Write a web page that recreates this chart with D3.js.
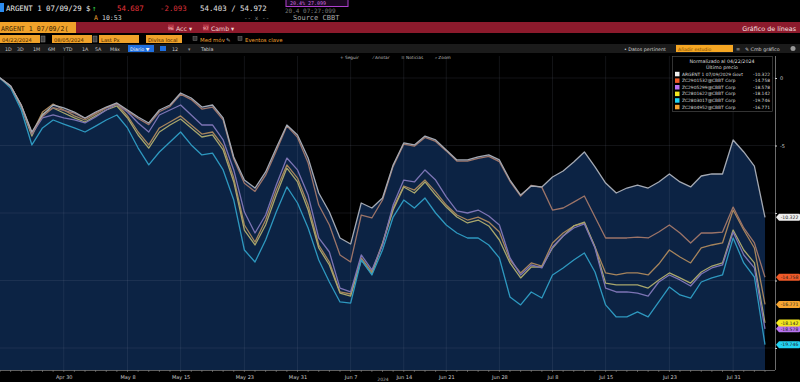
<!DOCTYPE html>
<html><head><meta charset="utf-8">
<script src="https://cdn.jsdelivr.net/npm/d3@7"></script>
<style>html,body{margin:0;padding:0;background:#000;overflow:hidden}svg{display:block}</style>
</head><body><svg id="c" width="800" height="382"></svg>
<script>
// ---------- DATA ----------
const startDate = "2024-04-22", endDate = "2024-08-05";
const holidays = ["2024-05-27", "2024-06-19", "2024-07-04"];
const tickDates = ["2024-04-30","2024-05-08","2024-05-15","2024-05-23","2024-05-31","2024-06-07","2024-06-14","2024-06-21","2024-06-28","2024-07-08","2024-07-15","2024-07-23","2024-07-31"];
const tickLabels = ["Apr 30","May 8","May 15","May 23","May 31","Jun 7","Jun 14","Jun 21","Jun 28","Jul 8","Jul 15","Jul 23","Jul 31"];
const yTicks = [0, -5, -10, -15, -20];
const yTickLabels = ["0", "-5", "", "", ""];
const seriesNames = ["ARGENT 1 07/09/2029 Govt","ZC2901532@CBBT Corp","ZC2905299@CBBT Corp","ZC2801622@CBBT Corp","ZC2803017@CBBT Corp","ZC2804952@CBBT Corp"];
const lastValues = ["-10.322","-14.758","-18.578","-18.142","-19.746","-16.771"];

const argent = [0,-0.59,-2.00,-4.00,-2.74,-2.00,-2.22,-2.52,-2.96,-2.52,-2.15,-1.85,-2.37,-2.89,-3.33,-2.37,-2.00,-1.11,-1.48,-2.15,-2.00,-2.96,-5.85,-7.56,-8.15,-6.96,-5.19,-3.48,-4.22,-5.93,-8.52,-9.93,-11.85,-12.30,-9.26,-9.63,-8.89,-6.44,-4.81,-4.96,-4.30,-4.59,-5.33,-6.07,-6.07,-5.85,-5.70,-6.07,-7.56,-8.67,-8.00,-8.07,-7.33,-6.89,-6.22,-5.48,-6.59,-7.78,-8.52,-8.15,-7.93,-8.15,-7.70,-7.11,-7.70,-8.07,-7.26,-7.11,-7.11,-4.59,-5.48,-6.52,-10.32];
const zcRed = [0,-0.62,-2.05,-4.10,-2.85,-2.20,-2.40,-2.60,-3.00,-2.60,-2.20,-1.90,-2.45,-3.00,-3.45,-2.50,-2.10,-1.20,-1.60,-2.30,-2.15,-3.10,-6.00,-7.80,-8.40,-7.20,-5.40,-3.55,-4.40,-6.30,-9.41,-10.89,-13.11,-13.63,-10.15,-10.37,-9.04,-6.55,-4.90,-5.05,-4.40,-4.70,-5.40,-6.15,-6.15,-5.95,-5.80,-6.20,-7.65,-8.75,-7.95,-8.10,-9.78,-9.63,-9.19,-8.74,-10.30,-11.85,-11.85,-11.85,-11.78,-11.85,-11.41,-10.89,-11.48,-12.22,-11.48,-11.48,-11.41,-9.56,-11.11,-12.22,-14.76];
const zcPurple = [0,-0.59,-2.07,-4.15,-2.96,-2.74,-2.96,-3.11,-3.33,-2.89,-2.37,-1.93,-2.52,-3.33,-4.00,-2.74,-2.37,-2.00,-2.74,-3.48,-3.48,-4.59,-6.81,-9.93,-11.48,-10.15,-7.93,-5.93,-6.81,-8.67,-11.85,-12.89,-15.56,-15.85,-13.11,-14.22,-12.37,-9.41,-7.56,-7.70,-6.81,-7.56,-8.81,-9.85,-10.00,-9.78,-10.22,-10.89,-13.33,-14.59,-13.85,-14.07,-12.52,-11.70,-11.11,-10.81,-12.59,-15.56,-15.85,-15.85,-15.93,-16.15,-15.11,-14.59,-14.96,-15.41,-14.52,-14.07,-13.85,-11.41,-13.11,-14.07,-18.58];
const zcYellow = [0,-0.67,-2.15,-4.30,-2.67,-2.22,-2.59,-2.96,-3.26,-2.81,-2.37,-2.07,-2.96,-4.22,-5.19,-4.00,-3.48,-3.04,-3.70,-4.37,-4.22,-5.33,-7.70,-11.26,-12.37,-10.89,-8.67,-6.67,-7.70,-9.78,-12.59,-13.85,-15.93,-16.15,-13.48,-14.52,-12.30,-9.78,-8.07,-8.52,-7.70,-8.67,-9.56,-10.30,-10.74,-10.52,-10.96,-12.00,-13.70,-14.81,-14.00,-14.00,-12.59,-11.70,-10.96,-10.67,-12.52,-15.19,-15.33,-15.33,-15.33,-15.56,-14.96,-14.44,-14.81,-15.19,-14.37,-13.93,-13.70,-11.26,-12.74,-13.70,-18.14];
const zcCyan = [0,-0.74,-2.37,-4.96,-3.70,-3.11,-3.41,-3.70,-4.00,-3.56,-3.11,-2.74,-3.70,-5.19,-6.44,-5.48,-4.74,-4.00,-4.96,-5.70,-5.56,-6.81,-9.04,-12.74,-13.63,-12.00,-9.93,-8.07,-9.26,-11.11,-13.48,-15.11,-16.59,-16.67,-13.48,-14.59,-12.74,-10.30,-9.04,-9.63,-8.89,-10.00,-10.89,-11.48,-11.85,-11.85,-12.37,-13.33,-16.22,-16.81,-15.85,-16.30,-14.59,-14.07,-13.48,-12.96,-14.37,-16.81,-17.70,-17.70,-17.33,-17.70,-16.59,-15.48,-16.07,-16.30,-15.11,-14.81,-14.59,-11.85,-13.70,-14.74,-19.75];
const zcOrange = [0,-0.59,-2.00,-4.15,-2.52,-1.93,-2.37,-2.81,-3.11,-2.67,-2.22,-1.93,-2.81,-4.00,-4.96,-3.70,-3.26,-2.81,-3.48,-4.15,-4.00,-5.04,-7.41,-10.89,-12.15,-10.52,-8.30,-6.44,-7.41,-9.41,-12.37,-13.63,-15.85,-16.00,-13.33,-14.37,-12.22,-9.63,-8.00,-8.30,-7.56,-8.44,-9.41,-10.15,-10.52,-10.30,-10.67,-11.41,-13.48,-14.44,-13.70,-13.93,-12.22,-11.48,-10.96,-10.74,-12.52,-14.44,-14.59,-14.44,-14.44,-14.59,-13.78,-12.74,-13.26,-13.70,-12.59,-12.37,-12.22,-9.78,-11.26,-12.59,-16.77];

const seriesData = [argent, zcRed, zcPurple, zcYellow, zcCyan, zcOrange];
const lineColors = ["#a4a9b3","#9c7468","#7c74b4","#a8a66c","#2e98bf","#a6845c"];
const tagColors  = ["#eeeeee","#f05a28","#b873f0","#f2e61e","#22d2f2","#f5a431"];

// trading days
const dates = [];
for (let d = new Date(startDate + "T00:00:00Z"); d <= new Date(endDate + "T00:00:00Z"); d = new Date(d.getTime() + 864e5)) {
  const s = d.toISOString().slice(0,10), wd = d.getUTCDay();
  if (wd !== 0 && wd !== 6 && !holidays.includes(s)) dates.push(s);
}

const svg = d3.select("#c");
const W = 800, H = 382;
const plot = {left: 0, right: 765, top: 56, bottom: 370};
const x = d3.scaleLinear().domain([0, dates.length - 1]).range([plot.left, plot.right]);
const y = d3.scaleLinear().domain([0, -20]).range([78, 348]);

svg.append("rect").attr("width", W).attr("height", H).attr("fill", "#000");

// ---------- HEADER ----------
const mono = "'DejaVu Sans Mono', monospace", sans = "'DejaVu Sans', sans-serif";
svg.append("rect").attr("x",0).attr("y",3).attr("width",4).attr("height",9).attr("fill","#2b8cf0");
function txt(xp, yp, s, col, size, fam, anchor, weight) {
  return svg.append("text").attr("x", xp).attr("y", yp).text(s).attr("fill", col)
    .attr("font-size", size).attr("font-family", fam || sans).attr("text-anchor", anchor || "start")
    .attr("font-weight", weight || "normal");
}
txt(6, 11, "ARGENT 1 07/09/29 $", "#e8e8e8", 7.4, mono);
txt(92, 11, "↑", "#2fd04a", 7.4, mono);
txt(117, 11, "54.687", "#e8343c", 7.4, mono);
txt(160, 11, "-2.093", "#d8303a", 7.4, mono);
txt(200, 11, "54.403 / 54.972", "#e0e0e0", 7.4, mono);
svg.append("rect").attr("x",286).attr("y",-1).attr("width",62).attr("height",7.5).attr("fill","#1a0820").attr("stroke","#b040d0").attr("stroke-width",1);
txt(290, 5, "20.4% 27.099", "#d070e0", 5, mono);
txt(285, 13, "20.4 07:27:099", "#777", 6, mono);
txt(94, 20, "A", "#f0a030", 6.5, mono);
txt(102, 20, "10:53", "#d8d8d8", 6.5, mono);
txt(244, 20, "-- x --", "#888", 6, mono);
txt(293, 20, "Source CBBT", "#aaa", 7, mono);

// red bar
svg.append("rect").attr("x",0).attr("y",22).attr("width",800).attr("height",11).attr("fill","#8c1a2c");
svg.append("rect").attr("x",0).attr("y",22).attr("width",76).attr("height",11).attr("fill","#f0a22a");
txt(1, 30.5, "ARGENT 1 07/09/2(", "#3a2200", 6.6, mono);
svg.append("rect").attr("x",168).attr("y",24.5).attr("width",6).attr("height",6).attr("fill","#b03040");
txt(168, 30, "96", "#f0c0c0", 4.5, sans);
txt(176, 30.5, "Acc ▾", "#f2d6d6", 6.2, sans);
svg.append("rect").attr("x",203).attr("y",24.5).attr("width",6).attr("height",6).attr("fill","#b03040");
txt(203, 30, "97", "#f0c0c0", 4.5, sans);
txt(211, 30.5, "Camb ▾", "#f2d6d6", 6.2, sans);
txt(796, 30.5, "Gráfico de líneas", "#f4e0e0", 6.4, sans, "end");

// options row
const boxes = [[0,40,"04/22/2024"],[52,40,"08/05/2024"],[99,40,"Last Px"],[146,36,"Divisa local"]];
boxes.forEach(b => {
  svg.append("rect").attr("x",b[0]).attr("y",35).attr("width",b[1]).attr("height",8).attr("fill","#f0a22a");
  txt(b[0]+2, 41.5, b[2], "#4a2a00", 5.2, sans);
});
[41, 93].forEach(xx => svg.append("rect").attr("x",xx).attr("y",36).attr("width",4).attr("height",6).attr("fill","#444").attr("stroke","#888").attr("stroke-width",0.5));
svg.append("rect").attr("x",193).attr("y",36.5).attr("width",4).attr("height",4).attr("fill","#333").attr("stroke","#777").attr("stroke-width",0.5);
txt(200, 41.5, "Med móv", "#f0a030", 5.4, sans);
txt(226, 41.5, "✎", "#bbb", 5.4, sans);
svg.append("rect").attr("x",238).attr("y",36.5).attr("width",4).attr("height",4).attr("fill","#333").attr("stroke","#777").attr("stroke-width",0.5);
txt(245, 41.5, "Eventos clave", "#f0a030", 5.4, sans);

// period row
svg.append("rect").attr("x",0).attr("y",44).attr("width",800).attr("height",9).attr("fill","#1b1b1b");
[["1D",5],["3D",17],["1M",33],["6M",48],["YTD",63],["1A",82],["5A",95],["Máx",110]].forEach(p => txt(p[1], 50.5, p[0], "#c8c8c8", 4.8, sans));
svg.append("rect").attr("x",128).attr("y",45).attr("width",26).attr("height",7).attr("fill","#1f6fe0");
txt(130, 50.5, "Diario ▼", "#f0f0f0", 4.8, sans);
svg.append("rect").attr("x",160).attr("y",46).attr("width",6).attr("height",5).attr("fill","#1f6fe0");
txt(172, 50.5, "12", "#c8c8c8", 4.8, sans);
txt(188, 50.5, "▾", "#999", 4.8, sans);
txt(201, 50.5, "Tabla", "#d0d0d0", 4.8, sans);
txt(624, 50.5, "• Datos pertinent", "#d0d0d0", 4.8, sans);
svg.append("rect").attr("x",676).attr("y",45).attr("width",57).attr("height",7).attr("fill","#f5a623");
txt(678, 50.5, "Añadir estudio", "#7a4a00", 4.6, sans);
txt(736, 50.5, "≡", "#aaa", 5, sans);
txt(745, 50.5, "✎ Cmb gráfico", "#d0d0d0", 4.8, sans);
svg.append("circle").attr("cx",793).attr("cy",48.5).attr("r",2.5).attr("fill","#999");

// ---------- PLOT ----------
const gridCol = "rgba(140,150,170,0.22)";
const tickIdx = tickDates.map(t => dates.indexOf(t));

const area = d3.area().x((d,i) => x(i)).y0(plot.bottom).y1(d => y(d));
svg.append("path").datum(argent).attr("d", area).attr("fill", "#0c2344");

// gridlines
svg.append("g").selectAll("line").data(tickIdx).join("line")
  .attr("x1", d => x(d)).attr("x2", d => x(d)).attr("y1", 56).attr("y2", plot.bottom)
  .attr("stroke", gridCol).attr("stroke-width", 0.6);
svg.append("g").selectAll("line").data(yTicks).join("line")
  .attr("x1", 0).attr("x2", 775).attr("y1", d => y(d)).attr("y2", d => y(d))
  .attr("stroke", gridCol).attr("stroke-width", 0.6);

// toolbar in chart
txt(340, 58.5, "+ Seguir", "#bbb", 4.3, sans);
txt(373, 58.5, "⁄ Anotar", "#bbb", 4.3, sans);
txt(401, 58.5, "≡ Noticias", "#bbb", 4.3, sans);
txt(435, 58.5, "⌕ Zoom", "#bbb", 4.3, sans);

// lines
const line = d3.line().x((d,i) => x(i)).y(d => y(d));
[5,3,2,4,1,0].forEach(k => {
  svg.append("path").datum(seriesData[k]).attr("d", line).attr("fill", "none")
    .attr("stroke", lineColors[k]).attr("stroke-width", 1.3).attr("stroke-linejoin", "round");
});

// x axis
svg.append("line").attr("x1",0).attr("x2",775).attr("y1",plot.bottom+0.5).attr("y2",plot.bottom+0.5).attr("stroke","#777").attr("stroke-width",0.8);
svg.append("g").selectAll("line").data(dates.map((d,i)=>i)).join("line")
  .attr("x1", d => x(d)).attr("x2", d => x(d)).attr("y1", plot.bottom).attr("y2", plot.bottom + 2)
  .attr("stroke", "#888").attr("stroke-width", 0.6);
const xAxis = d3.axisBottom(x).tickValues(tickIdx).tickFormat((d,i) => tickLabels[i]).tickSize(0);
const gx = svg.append("g").attr("transform", `translate(0,${plot.bottom + 1})`).call(xAxis);
gx.select(".domain").remove();
gx.selectAll("text").attr("fill", "#c8c8c8").attr("font-size", 5).attr("font-family", sans).attr("dy", "0.9em");
txt(383, 381, "2024", "#aaa", 4.5, sans, "middle");

// right axis
svg.append("line").attr("x1",775.5).attr("x2",775.5).attr("y1",56).attr("y2",plot.bottom).attr("stroke","#888").attr("stroke-width",0.8);
const yAxis = d3.axisRight(y).tickValues(yTicks).tickFormat((d,i) => yTickLabels[i]).tickSize(2);
const gy = svg.append("g").attr("transform", "translate(775,0)").call(yAxis);
gy.select(".domain").remove();
gy.selectAll("line").attr("stroke", "#ccc");
gy.selectAll("text").attr("fill", "#c8c8c8").attr("font-size", 5).attr("font-family", sans);

// last value tags
const tagG = svg.append("g");
seriesData.forEach((s, k) => {
  const yy = y(s[s.length - 1]);
  tagG.append("path").attr("d", `M776,${yy} L779,${yy-3.5} L799,${yy-3.5} Q800,${yy-3.5} 800,${yy-2.5} L800,${yy+2.5} Q800,${yy+3.5} 799,${yy+3.5} L779,${yy+3.5} Z`)
    .attr("fill", tagColors[k]);
  tagG.append("text").attr("x", 789.5).attr("y", yy + 1.7).text(lastValues[k]).attr("fill", "#222")
    .attr("font-size", 4.6).attr("font-family", sans).attr("text-anchor", "middle");
});

// legend
const lg = svg.append("g");
lg.append("rect").attr("x",672.5).attr("y",56.5).attr("width",100).attr("height",55).attr("fill","#000").attr("stroke","#555").attr("stroke-width",0.6);
lg.append("text").attr("x",722).attr("y",62.5).text("Normalizado al 04/22/2024").attr("fill","#ddd").attr("font-size",4.8).attr("font-family",sans).attr("text-anchor","middle");
lg.append("text").attr("x",722).attr("y",68.5).text("Último precio").attr("fill","#ddd").attr("font-size",4.8).attr("font-family",sans).attr("text-anchor","middle");
seriesNames.forEach((n, k) => {
  const yy = 74 + k * 6.6;
  lg.append("rect").attr("x",675).attr("y",yy-2.2).attr("width",4.5).attr("height",4.5).attr("fill",tagColors[k]);
  lg.append("text").attr("x",682).attr("y",yy+1.6).text(n).attr("fill","#d8d8d8").attr("font-size",4.4).attr("font-family",sans);
  lg.append("text").attr("x",770).attr("y",yy+1.6).text(lastValues[k]).attr("fill","#d8d8d8").attr("font-size",4.4).attr("font-family",sans).attr("text-anchor","end");
});
</script></body></html>
